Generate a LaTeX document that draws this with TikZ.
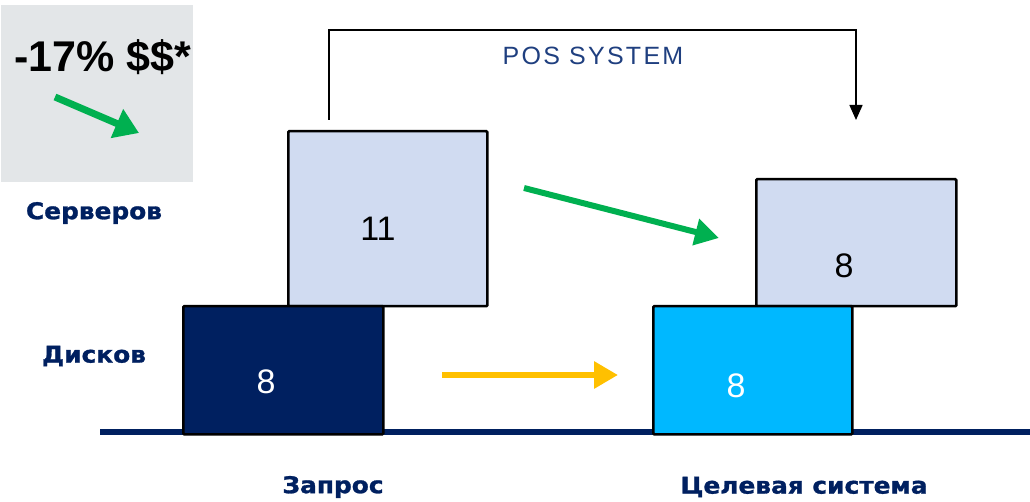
\documentclass[tikz,border=0pt]{standalone}
\usepackage{fontspec}
\setmainfont{Liberation Sans}
\newfontfamily\blackfont{DejaVu Sans}[FakeStretch=1.08, FakeBold=1.2]
\newfontfamily\posfont{Liberation Sans}[LetterSpace=9]
\usetikzlibrary{arrows.meta}
\definecolor{navy}{HTML}{002060}
\definecolor{srvfill}{HTML}{D0DBF1}
\definecolor{diskcyan}{HTML}{00B8FF}
\definecolor{grn}{HTML}{00B050}
\definecolor{ylw}{HTML}{FFC000}
\definecolor{graybg}{HTML}{E3E6E8}
\definecolor{posblue}{HTML}{1F3F7F}
\tikzset{
  box/.style={draw=black, line width=2.5pt, rounded corners=1pt, inner sep=0pt, anchor=north west},
  lbl/.style={font=\blackfont\bfseries\fontsize{23}{25}\selectfont, text=navy},
  num/.style={font=\fontsize{34}{36}\selectfont},
  fatarrow/.style={line width=6pt, -{Triangle[length=24pt,width=26pt]}},
}
\begin{document}
\begin{tikzpicture}[x=1pt,y=-1pt]
\useasboundingbox (0,0) rectangle (1030,502);
% gray box
\node[fill=graybg, minimum width=192pt, minimum height=177pt, inner sep=0pt, anchor=north west] (gbox) at (1,5) {};
\node[font=\bfseries\fontsize{43}{45}\selectfont] (pct) at (103,57) {-17\% \$\$*};
\coordinate (ga1) at (55,97);
\coordinate (ga2) at (139,133);
\draw[grn, line width=7pt, -{Triangle[length=24pt,width=30pt]}] (ga1) -- (ga2);
% baseline
\draw[navy, line width=6pt] (100,432) -- (1030,432);
% boxes
\node[box, fill=srvfill, minimum width=199pt, minimum height=175pt] (srv1) at (287,130) {};
\node[num] at (378,229) {11};
\node[box, fill=navy, minimum width=200pt, minimum height=128pt] (dsk1) at (182,305) {};
\node[num, text=white] at (266,382) {8};
\node[box, fill=srvfill, minimum width=200pt, minimum height=127pt] (srv2) at (755,178) {};
\node[num] at (844,266) {8};
\node[box, fill=diskcyan, minimum width=199pt, minimum height=128pt] (dsk2) at (652,305) {};
\node[num, text=white] at (736,386) {8};
% POS connector
\coordinate (p1) at (329,120);
\coordinate (p2) at (856,120);
\draw[line width=1.5pt, -{Triangle[length=15pt,width=13pt]}] (p1) -- (329,30) -- (856,30) -- (p2);
\node[text=posblue, font=\posfont\fontsize{25}{27}\selectfont] (pos) at (593,56) {POS SYSTEM};
% big arrows
\coordinate (g1) at (524,188);
\coordinate (g2) at (719,238);
\draw[grn, fatarrow] (g1) -- (g2);
\coordinate (y1) at (442,375);
\coordinate (y2) at (618,375);
\draw[ylw, fatarrow] (y1) -- (y2);
% labels
\node[lbl] (lserv) at (94,213) {Серверов};
\node[lbl] (ldisk) at (94,356) {Дисков};
\node[lbl] (lreq) at (333,487) {Запрос};
\node[lbl] (ltgt) at (804,487) {Целевая система};
\end{tikzpicture}
\end{document}
